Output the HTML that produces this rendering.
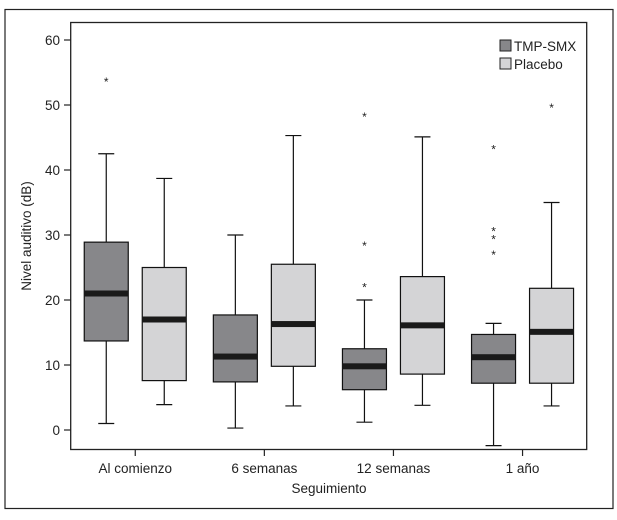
<!DOCTYPE html>
<html><head><meta charset="utf-8"><style>
html,body{margin:0;padding:0;background:#fff}
svg{display:block;font-family:"Liberation Sans",sans-serif}
</style></head><body>
<svg width="617" height="520" viewBox="0 0 617 520">
<rect x="5" y="9.5" width="608" height="499" fill="none" stroke="#222" stroke-width="1.2"/>
<rect x="70.7" y="22.5" width="516" height="427" fill="none" stroke="#222" stroke-width="1.3"/>
<g id="yaxis"></g>
<g id="xaxis"></g>
<g id="boxes"></g>
<text x="31" y="236" transform="rotate(-90 31 236)" text-anchor="middle" font-size="13.5" fill="#222">Nivel auditivo (dB)</text>
<text x="329" y="493" text-anchor="middle" font-size="13.5" fill="#222">Seguimiento</text>
<g>
<rect x="500" y="40" width="11" height="11" fill="#87878a" stroke="#222"/>
<text x="514" y="51" font-size="13.5" fill="#222">TMP-SMX</text>
<rect x="500" y="58" width="11" height="11" fill="#d4d4d6" stroke="#222"/>
<text x="514" y="69" font-size="13.5" fill="#222">Placebo</text>
</g>
</svg>
<script>
const categories = ["Al comienzo","6 semanas","12 semanas","1 año"];
const yTicks = [0,10,20,30,40,50,60];
// [low, q1, median, q3, high]
const tmpStats = [[1,13.7,21,28.9,42.5],[0.3,7.4,11.3,17.7,30],[1.2,6.2,9.8,12.5,20],[-2.4,7.2,11.2,14.7,16.4]];
const placeboStats = [[3.9,7.6,17,25,38.7],[3.7,9.8,16.3,25.5,45.3],[3.8,8.6,16.1,23.6,45.1],[3.7,7.2,15.1,21.8,35]];
const tmpOutliers = [[54],[],[48.6,28.8,22.4],[43.6,31,29.8,27.4]];
const placeboOutliers = [[],[],[],[50]];

const NS="http://www.w3.org/2000/svg";
const y = v => 430 - v*6.5;
const xc = i => 70.7 + (i+0.5)*129.1;
function mk(tag, attrs, parent){const e=document.createElementNS(NS,tag);for(const k in attrs)e.setAttribute(k,attrs[k]);parent.appendChild(e);return e;}
const ya=document.getElementById('yaxis'), xa=document.getElementById('xaxis'), bx=document.getElementById('boxes');
yTicks.forEach(t=>{
  const l=mk('line',{x1:64,x2:70.7,y1:y(t),y2:y(t),stroke:'#222','stroke-width':1.2},ya);
  
  
  const tx=mk('text',{x:60,y:y(t)+5,'text-anchor':'end','font-size':13.5,fill:'#222'},ya);
  tx.textContent=t;
  
  
});
categories.forEach((c,i)=>{
  const l=mk('line',{x1:xc(i),x2:xc(i),y1:449.5,y2:456,stroke:'#222','stroke-width':1.2},xa);
  
  
  const tx=mk('text',{x:xc(i),y:473,'text-anchor':'middle','font-size':13.5,fill:'#222'},xa);
  tx.textContent=c;
  
  
});
function drawBox(cx, s, fill, outs, name){
  const g=mk('g',{},bx);
  
  
  const w=44, cap=8;
  mk('line',{x1:cx,x2:cx,y1:y(s[4]),y2:y(s[3]),stroke:'#111','stroke-width':1.2},g);
  mk('line',{x1:cx,x2:cx,y1:y(s[1]),y2:y(s[0]),stroke:'#111','stroke-width':1.2},g);
  mk('line',{x1:cx-cap,x2:cx+cap,y1:y(s[4]),y2:y(s[4]),stroke:'#111','stroke-width':1.2},g);
  mk('line',{x1:cx-cap,x2:cx+cap,y1:y(s[0]),y2:y(s[0]),stroke:'#111','stroke-width':1.2},g);
  mk('rect',{x:cx-w/2,y:y(s[3]),width:w,height:y(s[1])-y(s[3]),fill:fill,stroke:'#111','stroke-width':1.2},g);
  mk('rect',{x:cx-w/2,y:y(s[2])-3,width:w,height:6,fill:'#1a1a1a'},g);
  outs.forEach(o=>{
    const t=mk('text',{x:cx,y:y(o)+7,'text-anchor':'middle','font-size':12,fill:'#222'},g);
    t.textContent='*';
    
    
  });
}
categories.forEach((c,i)=>{
  drawBox(xc(i)-29, tmpStats[i], '#87878a', tmpOutliers[i], 'box-tmp-smx');
  drawBox(xc(i)+29, placeboStats[i], '#d4d4d6', placeboOutliers[i], 'box-placebo');
});
</script>
</body></html>
